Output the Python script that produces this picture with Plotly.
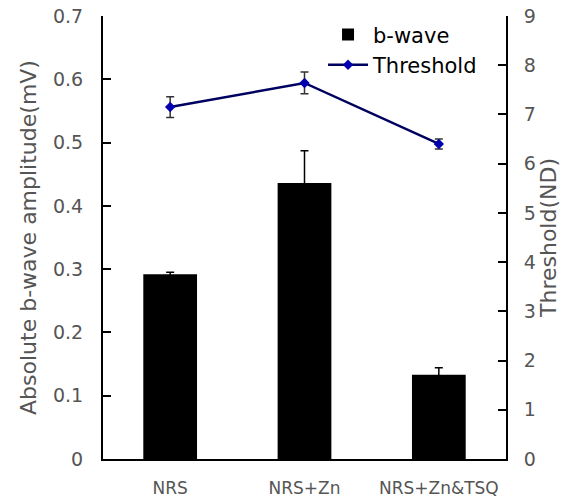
import plotly.graph_objects as go

categories = ["NRS", "NRS+Zn", "NRS+Zn&TSQ"]
bwave = [0.292, 0.436, 0.133]
bwave_err = [0.003, 0.051, 0.011]
threshold = [7.15, 7.64, 6.40]
threshold_err = [0.21, 0.22, 0.10]

left_ticks = [0, 0.1, 0.2, 0.3, 0.4, 0.5, 0.6, 0.7]
left_ticktext = ["0", "0.1", "0.2", "0.3", "0.4", "0.5", "0.6", "0.7"]
right_ticks = [0, 1, 2, 3, 4, 5, 6, 7, 8, 9]

FONT = "DejaVu Sans"
GRAY = "#555555"

fig = go.Figure()
fig.add_trace(go.Bar(
    x=categories, y=bwave, name="b-wave",
    marker=dict(color="black", line=dict(color="black", width=0)),
    width=0.4,
    error_y=dict(type="data", array=bwave_err, color="black", thickness=1.5, width=4),
))
fig.add_trace(go.Scatter(
    x=categories, y=threshold, name="Threshold", yaxis="y2",
    mode="lines+markers",
    line=dict(color="#000060", width=2.5),
    marker=dict(symbol="diamond", size=8, color="#0000b0"),
    error_y=dict(type="data", array=threshold_err, color="#333333", thickness=1.5, width=4),
))

fig.update_layout(
    width=580, height=501,
    margin=dict(l=103, r=74, t=16, b=42),
    paper_bgcolor="white", plot_bgcolor="white",
    font=dict(family=FONT, color=GRAY, size=19),
    showlegend=True,
    legend=dict(
        x=0.546, y=1.004, xanchor="left", yanchor="top",
        bgcolor="rgba(0,0,0,0)", font=dict(family=FONT, color="black", size=21),
        tracegroupgap=0, itemwidth=40,
    ),
    xaxis=dict(
        type="category", showline=True, linecolor="black", linewidth=2,
        ticks="", showgrid=False, tickfont=dict(size=17, color=GRAY),
        ticklabelstandoff=13, automargin=False,
    ),
    yaxis=dict(
        range=[0, 0.7], tickvals=left_ticks, ticktext=left_ticktext,
        showline=True, linecolor="black", linewidth=2, mirror=False,
        ticks="inside", ticklen=8, tickwidth=2, tickcolor="black",
        showgrid=False, zeroline=False, automargin=False,
        tickfont=dict(size=19, color=GRAY), ticklabelstandoff=14,
        title=dict(text="Absolute b-wave amplitude(mV)", font=dict(size=22, color=GRAY), standoff=10),
    ),
    yaxis2=dict(
        range=[0, 9], tickvals=right_ticks, overlaying="y", side="right",
        showline=True, linecolor="black", linewidth=2,
        ticks="inside", ticklen=8, tickwidth=2, tickcolor="black",
        showgrid=False, zeroline=False, automargin=False,
        tickfont=dict(size=19, color=GRAY), ticklabelstandoff=12,
        title=dict(text="Threshold(ND)", font=dict(size=22, color=GRAY), standoff=6),
    ),
)

fig.write_html("out.html")
